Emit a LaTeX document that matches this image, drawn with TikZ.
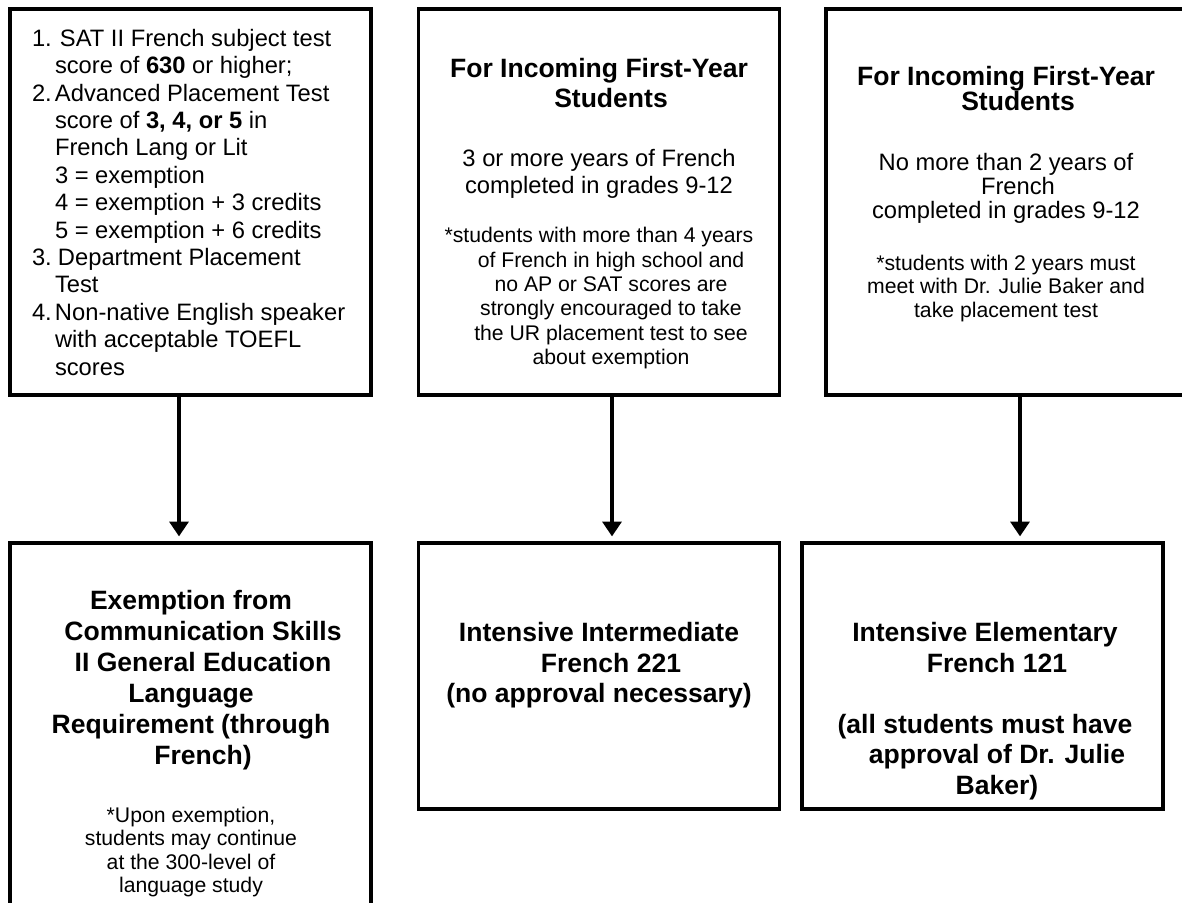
\documentclass[tikz,border=0pt]{standalone}
\usepackage{fontspec}
\setmainfont{Liberation Sans}
\usetikzlibrary{arrows.meta}
\newcommand\sh{\hspace*{18pt}}
\newcommand\tp{\rule{0pt}{16pt}}
\newcommand\hi{\hspace*{17.25pt}}
\newcommand\ftit[1]{\fontsize{19.9pt}{#1}\selectfont\bfseries\lineskiplimit=-100pt\relax}
\newcommand\fmed[1]{\fontsize{17.8pt}{#1}\selectfont\lineskiplimit=-100pt\relax}
\newcommand\fsml[1]{\fontsize{15.9pt}{#1}\selectfont\lineskiplimit=-100pt\relax}
\begin{document}
\begin{tikzpicture}[x=0.75pt,y=-0.75pt,
  box/.style={draw=black,line width=2.7pt,rectangle,inner sep=0pt,minimum width=270.75pt},
  txt/.style={inner sep=0pt,outer sep=0pt,align=center,anchor=north,text=black},
  arr/.style={line width=3pt,-{Triangle[width=14pt,length=11pt]},shorten >=3.6pt},
]
\fill[white] (0,0) rectangle (1182,903);
\clip (0,0) rectangle (1182,903);

% boxes
\node[box,minimum height=289.5pt] (tl) at (190.75,202) {};
\node[box,minimum height=289.5pt] (tm) at (599,202) {};
\node[box,minimum height=289.5pt] (tr) at (1006.5,202) {};
\node[box,minimum height=290.25pt] (bl) at (190.75,736.5) {};
\node[box,minimum height=199.5pt] (bm) at (599,676) {};
\node[box,minimum height=199.5pt] (br) at (982.5,676) {};

% arrows
\coordinate (c1) at (179,0);
\coordinate (c2) at (612,0);
\coordinate (c3) at (1020,0);
\draw[arr] (c1 |- tl.south) -- (c1 |- bl.north);
\draw[arr] (c2 |- tm.south) -- (c2 |- bm.north);
\draw[arr] (c3 |- tr.south) -- (c3 |- br.north);

% top-left text
\node[txt,align=left,anchor=north west,font=\fmed{20.55pt}] (tlT) at (32,25) {%
\tp\makebox[21pt][l]{1.}SAT II French subject test\\
\hi score of \textbf{630} or higher;\\
\makebox[17.25pt][l]{2.}Advanced Placement Test\\
\hi score of \textbf{3, 4, or 5} in\\
\hi French Lang or Lit\\
\hi 3 = exemption\\
\hi 4 = exemption + 3 credits\\
\hi 5 = exemption + 6 credits\\
\makebox[19.5pt][l]{3.}Department Placement\\
\hi Test\\
\makebox[17.25pt][l]{4.}Non-native English speaker\\
\hi with acceptable TOEFL\\
\hi scores};

% top-middle text
\node[txt,font=\ftit{22.5pt}] (tmT) at (599,56.2) {\tp For Incoming First-Year\\\sh Students};
\node[txt,font=\fmed{20.25pt}] (tmM) at (599,145.1) {\tp 3 or more years of French\\completed in grades 9-12};
\node[txt,font=\fsml{18.3pt}] (tmS) at (599,221.3) {\tp *students with more than 4 years\\\sh of French in high school and\\\sh no AP or SAT scores are\\\sh strongly encouraged to take\\\sh the UR placement test to see\\\sh about exemption};

% top-right text
\node[txt,font=\ftit{18.4pt}] (trT) at (1006,64.2) {\tp For Incoming First-Year\\\sh Students};
\node[txt,font=\fmed{18pt}] (trM) at (1006,149.1) {\tp No more than 2 years of\\\sh French\\completed in grades 9-12};
\node[txt,font=\fsml{17.6pt}] (trS) at (1006,248.8) {\tp *students with 2 years must\\meet with Dr. Julie Baker and\\take placement test};

% bottom-left text
\node[txt,font=\ftit{23.25pt}] (blT) at (191,588.2) {\tp Exemption from\\\sh Communication Skills\\\sh II General Education\\Language\\Requirement (through\\\sh French)};
\node[txt,font=\fsml{17.5pt}] (blS) at (191,801.3) {\tp *Upon exemption,\\students may continue\\at the 300-level of\\language study};

% bottom-middle text
\node[txt,font=\ftit{22.9pt}] (bmT) at (599,620.2) {\tp Intensive Intermediate\\\sh French 221\\(no approval necessary)};

% bottom-right text
\node[txt,font=\ftit{22.9pt}] (brT) at (985,620.2) {\tp Intensive Elementary\\\sh French 121\\\mbox{}\\(all students must have\\\sh approval of Dr. Julie\\\sh Baker)};
\end{tikzpicture}
\end{document}
